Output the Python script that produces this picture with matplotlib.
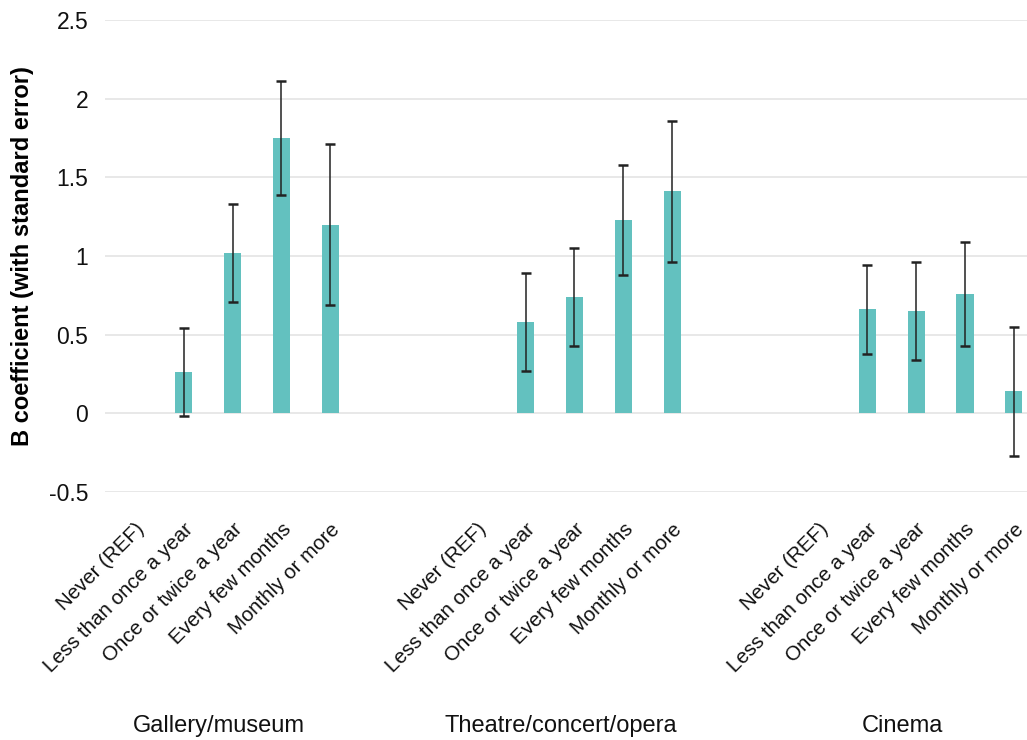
import matplotlib
matplotlib.use("Agg")
import matplotlib.pyplot as plt
import numpy as np

plt.rcParams['font.family'] = ['Liberation Sans', 'DejaVu Sans']

groups = ["Gallery/museum", "Theatre/concert/opera", "Cinema"]
categories = ["Never (REF)", "Less than once a year", "Once or twice a year",
              "Every few months", "Monthly or more"]
# B coefficients (Never = reference, no bar)
gallery_b = [None, 0.26, 1.02, 1.75, 1.20]
gallery_se = [None, 0.28, 0.31, 0.36, 0.51]
theatre_b = [None, 0.58, 0.74, 1.23, 1.41]
theatre_se = [None, 0.31, 0.31, 0.35, 0.45]
cinema_b = [None, 0.66, 0.65, 0.76, 0.14]
cinema_se = [None, 0.285, 0.31, 0.33, 0.41]

series_b = [gallery_b, theatre_b, cinema_b]
series_se = [gallery_se, theatre_se, cinema_se]

fig = plt.figure(figsize=(10.27, 7.40), dpi=100)
ax = fig.add_axes([105/1027, 1 - 492/740, 922/1027, 472/740])

bar_color = "#63C1BF"
group_step = 7
xs_all, labels_all = [], []
for g, (bvals, sevals) in enumerate(zip(series_b, series_se)):
    for i, (b, se) in enumerate(zip(bvals, sevals)):
        x = g * group_step + i
        xs_all.append(x)
        labels_all.append(categories[i])
        if b is None:
            continue
        ax.bar(x, b, width=0.35, color=bar_color, zorder=2)
        ax.errorbar(x, b, yerr=se, fmt='none', ecolor='#222222', elinewidth=1.1,
                    capsize=3.3, capthick=1.8, zorder=3)

ax.set_xlim(-0.614, 18.27)
ax.set_ylim(-0.5, 2.5)
ax.set_yticks([-0.5, 0, 0.5, 1, 1.5, 2, 2.5])
ax.set_yticklabels(["-0.5", "0", "0.5", "1", "1.5", "2", "2.5"], fontsize=16.5, color='#111111')
ax.set_xticks(xs_all)
ax.set_xticklabels(labels_all, rotation=45, ha='right', rotation_mode='anchor',
                   fontsize=14.8, color='#111111')
ax.tick_params(axis='both', length=0)
ax.tick_params(axis='y', pad=12)
ax.tick_params(axis='x', pad=20)
ax.grid(axis='y', color='#e6e6e6', linewidth=1.3, zorder=0)
for s in ax.spines.values():
    s.set_visible(False)

ax.set_ylabel("B coefficient (with standard error)", fontsize=17, fontweight='bold',
              labelpad=11)

for g, name in enumerate(groups):
    ax.annotate(name, xy=(g * group_step + 2 - 0.28, 0), xycoords=('data', 'figure pixels'),
                xytext=(0, 14), textcoords='offset pixels',
                ha='center', va='center', fontsize=17, color='#111111')

fig.savefig("out.png", dpi=100, facecolor='white')
